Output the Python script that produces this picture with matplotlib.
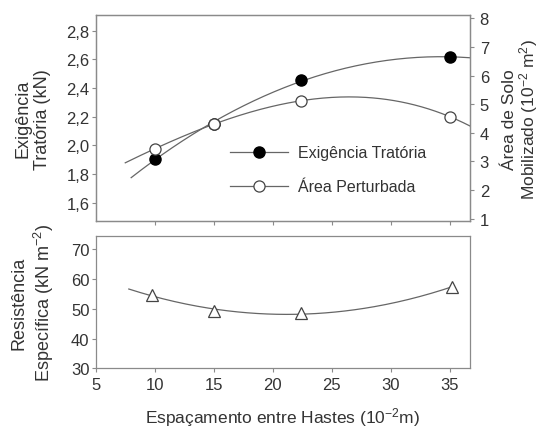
import numpy as np
import matplotlib
matplotlib.use('Agg')
import matplotlib.pyplot as plt
from matplotlib.lines import Line2D

plt.rcParams['font.family'] = ['Liberation Sans', 'DejaVu Sans']
plt.rcParams['mathtext.default'] = 'regular'

# dados
espac = [10, 15, 22.4, 35]                 # espacamento entre hastes (10^-2 m)
exig_trat = [1.907, 2.148, 2.458, 2.616]   # exigencia tratoria (kN)
area_mob = [3.44, 4.30, 5.12, 4.56]        # area de solo mobilizado (10^-2 m2)
espac_res = [9.8, 15, 22.4, 35.2]
resist = [54.6, 49.4, 48.6, 57.4]          # resistencia especifica (kN m-2)

txt = '#333333'
lc = '#666666'
sc = '#8a8a8a'

fig = plt.figure(figsize=(5.44, 4.31), dpi=100)
ax1 = fig.add_axes([0.176, 0.484, 0.688, 0.479])
ax2 = ax1.twinx()
ax3 = fig.add_axes([0.176, 0.143, 0.688, 0.307])

# curvas ajustadas
c1 = np.polyfit(espac, exig_trat, 2)
xx1 = np.linspace(8.0, 36.7, 200)
ax1.plot(xx1, np.polyval(c1, xx1), color=lc, lw=0.9)
ax1.plot(espac, exig_trat, 'o', color='black', ms=8, zorder=5)

c2 = np.polyfit(espac, area_mob, 3)
xx2 = np.linspace(7.5, 36.7, 200)
ax2.plot(xx2, np.polyval(c2, xx2), color=lc, lw=0.9)
ax2.plot(espac, area_mob, 'o', mfc='white', mec='#444444', mew=0.9, ms=8, zorder=4)

c3 = np.polyfit(espac_res, resist, 2)
xx3 = np.linspace(7.8, 35.2, 200)
ax3.plot(xx3, np.polyval(c3, xx3), color=lc, lw=0.9)
ax3.plot(espac_res, resist, '^', mfc='white', mec='#444444', mew=0.9, ms=9)

ax1.set_xlim(5, 36.7)
ax1.set_ylim(1.47, 2.91)
ax2.set_ylim(0.9, 8.12)
ax3.set_xlim(5, 36.7)
ax3.set_ylim(30, 74.5)

ax1.set_xticks([10, 15, 20, 25, 30, 35])
ax1.set_xticklabels([])
ax1.set_yticks([1.6, 1.8, 2.0, 2.2, 2.4, 2.6, 2.8])
ax1.set_yticklabels(['1,6', '1,8', '2,0', '2,2', '2,4', '2,6', '2,8'])
ax2.set_yticks([1, 2, 3, 4, 5, 6, 7, 8])
ax3.set_xticks([5, 10, 15, 20, 25, 30, 35])
ax3.set_yticks([30, 40, 50, 60, 70])

for a in (ax1, ax2, ax3):
    for s in a.spines.values():
        s.set_color(sc)
        s.set_linewidth(0.9)
    a.tick_params(direction='out', length=3, width=0.8, color=sc,
                  labelcolor=txt, labelsize=12, pad=1.5)
ax2.tick_params(axis='y', pad=4)
ax3.tick_params(axis='x', pad=3)

ax1.set_ylabel('Exigência\nTratória (kN)', fontsize=13, color=txt, labelpad=11)
ax2.set_ylabel('Área de Solo\nMobilizado (10$^{-2}$ m$^{2}$)', fontsize=12.5,
               color=txt, labelpad=9, linespacing=1.0)
ax3.set_ylabel('Resistência\nEspecífica (kN m$^{-2}$)', fontsize=13, color=txt,
               labelpad=11)
ax3.set_xlabel('Espaçamento entre Hastes (10$^{-2}$m)', fontsize=12.5,
               color=txt, labelpad=10)
fig.align_ylabels([ax1, ax3])

h1 = Line2D([], [], color=lc, lw=0.9, marker='o', mfc='black', mec='black', ms=8)
h2 = Line2D([], [], color=lc, lw=0.9, marker='o', mfc='white', mec='#444444',
            mew=0.9, ms=8)
ax1.legend([h1, h2], ['Exigência Tratória', 'Área Perturbada'], frameon=False,
           loc='center left', bbox_to_anchor=(0.36, 0.25), fontsize=11.5,
           handlelength=3.6, handletextpad=0.6, labelspacing=1.2,
           borderpad=0, borderaxespad=0, labelcolor=txt)

fig.savefig('out.png', dpi=100)
